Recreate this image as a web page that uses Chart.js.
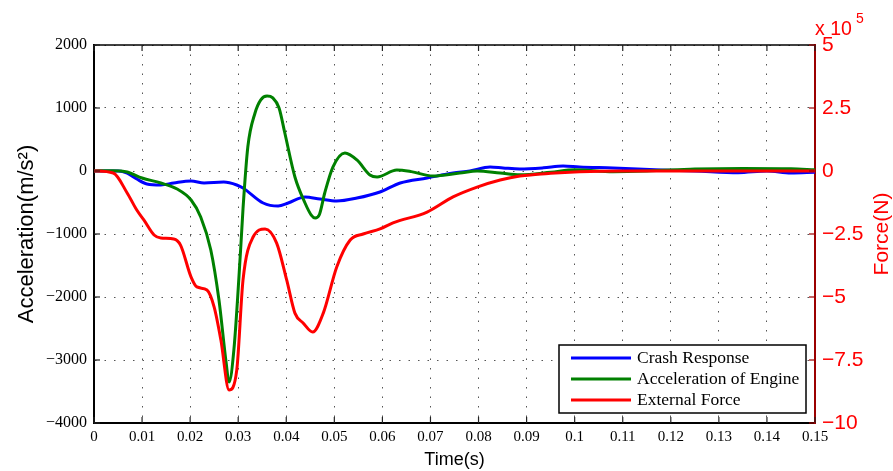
<!DOCTYPE html>
<html>
<head>
<meta charset="utf-8">
<script src="https://cdn.jsdelivr.net/npm/chart.js@4.4.1/dist/chart.umd.min.js"></script>
<style>
  html, body { margin: 0; padding: 0; background: #fff; }
  #wrap { width: 893px; height: 471px; }
</style>
</head>
<body>
<div id="wrap"><canvas id="c" width="893" height="471"></canvas></div>
<script>
// ---- Data ----
const seriesNames = ['Crash Response', 'Acceleration of Engine', 'External Force'];

const crashTime  = [0, 0.005, 0.0069, 0.0089, 0.011, 0.0139, 0.0166, 0.0202, 0.0229, 0.027, 0.0297, 0.031, 0.0352, 0.0383, 0.0404, 0.0439, 0.047, 0.0505, 0.0547, 0.0595, 0.0637, 0.0693, 0.0747, 0.0782, 0.0824, 0.0851, 0.0886, 0.0935, 0.0976, 0.101, 0.108, 0.118, 0.125, 0.134, 0.14, 0.145, 0.15];
const crashAccel = [0, 0, -32, -127, -206, -222, -190, -159, -190, -175, -222, -270, -508, -556, -508, -413, -444, -476, -429, -333, -190, -111, -32, 0, 63, 48, 32, 50, 79, 63, 48, 16, 0, -27, 0, -32, -20];

const engineTime  = [0, 0.004, 0.0069, 0.01, 0.0139, 0.0173, 0.0202, 0.0222, 0.0243, 0.026, 0.0275, 0.0281, 0.0291, 0.0305, 0.031, 0.032, 0.0335, 0.0347, 0.036, 0.0372, 0.0385, 0.0397, 0.0418, 0.0439, 0.0452, 0.046, 0.0469, 0.048, 0.0497, 0.0522, 0.0547, 0.0574, 0.0589, 0.063, 0.066, 0.0705, 0.0761, 0.0797, 0.0845, 0.0886, 0.095, 0.1, 0.108, 0.115, 0.125, 0.135, 0.145, 0.15];
const engineAccel = [0, 5, -16, -111, -190, -286, -460, -730, -1254, -2048, -3048, -3349, -2841, -1254, -600, 381, 921, 1130, 1190, 1160, 1000, 603, -95, -508, -700, -746, -690, -349, 63, 286, 175, -63, -95, 16, -10, -79, -32, 0, -32, -60, -20, 20, -10, 0, 30, 40, 35, 20];

// External force in units of 10^5 N
const forceTime  = [0, 0.004, 0.0069, 0.0089, 0.0104, 0.0125, 0.0139, 0.0166, 0.018, 0.0202, 0.0214, 0.0235, 0.025, 0.0264, 0.0281, 0.0297, 0.031, 0.0331, 0.0356, 0.038, 0.0401, 0.0418, 0.0435, 0.0455, 0.0477, 0.0505, 0.0533, 0.056, 0.0595, 0.0622, 0.0693, 0.0747, 0.0797, 0.0845, 0.0886, 0.095, 0.101, 0.11, 0.12, 0.13, 0.14, 0.15];
const forceValue = [0, -0.08, -0.87, -1.55, -1.95, -2.54, -2.66, -2.70, -2.94, -4.21, -4.60, -4.72, -5.40, -6.71, -8.69, -7.90, -4.33, -2.62, -2.30, -2.86, -4.33, -5.64, -6.03, -6.39, -5.64, -3.81, -2.74, -2.50, -2.30, -2.06, -1.63, -1.03, -0.64, -0.36, -0.20, -0.09, -0.03, 0, 0, 0, 0, 0];

const xTicks  = [0, 0.01, 0.02, 0.03, 0.04, 0.05, 0.06, 0.07, 0.08, 0.09, 0.1, 0.11, 0.12, 0.13, 0.14, 0.15];
const yTicks  = [-4000, -3000, -2000, -1000, 0, 1000, 2000];
const y1Ticks = [-10, -7.5, -5, -2.5, 0, 2.5, 5];

// ---- helpers ----
const pairs = (xs, ys) => xs.map((x, i) => ({ x: x, y: ys[i] }));
const minus = v => (v < 0 ? '\u2212' + String(Math.abs(v)) : String(v));
const SERIF = '"Liberation Serif", "Times New Roman", serif';
const SANS = '"Liberation Sans", Arial, sans-serif';
const DARKRED = '#9b0000';

const overlay = {
  id: 'overlay',
  afterDraw(chart) {
    const ctx = chart.ctx;
    const a = chart.chartArea;
    const xs = chart.scales.x, ys = chart.scales.y, y1 = chart.scales.y1;
    ctx.save();
    // top frame
    ctx.strokeStyle = '#000';
    ctx.lineWidth = 1.5;
    ctx.beginPath(); ctx.moveTo(a.left, a.top); ctx.lineTo(a.right, a.top); ctx.stroke();
    // inward ticks
    ctx.lineWidth = 1.2;
    ctx.strokeStyle = '#222';
    xTicks.forEach(t => {
      const px = xs.getPixelForValue(t);
      ctx.beginPath(); ctx.moveTo(px, a.bottom); ctx.lineTo(px, a.bottom - 6); ctx.stroke();
      ctx.beginPath(); ctx.moveTo(px, a.top); ctx.lineTo(px, a.top + 6); ctx.stroke();
    });
    yTicks.forEach(v => {
      const py = ys.getPixelForValue(v);
      ctx.beginPath(); ctx.moveTo(a.left, py); ctx.lineTo(a.left + 6, py); ctx.stroke();
    });
    ctx.strokeStyle = DARKRED;
    y1Ticks.forEach(v => {
      const py = y1.getPixelForValue(v);
      ctx.beginPath(); ctx.moveTo(a.right, py); ctx.lineTo(a.right - 6, py); ctx.stroke();
    });
    // legend
    const lx = 559, ly = 345, lw = 247, lh = 68;
    ctx.fillStyle = '#fff';
    ctx.fillRect(lx, ly, lw, lh);
    ctx.strokeStyle = '#000';
    ctx.lineWidth = 1.5;
    ctx.strokeRect(lx, ly, lw, lh);
    const rows = [358, 379, 400];
    ctx.font = '17.5px ' + SERIF;
    ctx.textBaseline = 'middle';
    ctx.textAlign = 'left';
    chart.data.datasets.forEach((ds, i) => {
      ctx.strokeStyle = ds.borderColor;
      ctx.lineWidth = 3;
      ctx.beginPath(); ctx.moveTo(571, rows[i]); ctx.lineTo(631, rows[i]); ctx.stroke();
      ctx.fillStyle = '#000';
      ctx.fillText(ds.label, 637, rows[i]);
    });
    // right axis title
    ctx.fillStyle = '#ff0000';
    ctx.font = '21px ' + SANS;
    ctx.save();
    ctx.translate(882, (a.top + a.bottom) / 2);
    ctx.rotate(-Math.PI / 2);
    ctx.textAlign = 'center';
    ctx.textBaseline = 'middle';
    ctx.fillText('Force(N)', 0, 0);
    ctx.restore();
    // multiplier
    ctx.textAlign = 'left';
    ctx.textBaseline = 'alphabetic';
    ctx.font = '19.5px ' + SANS;
    ctx.fillText('x 10', 815, 35);
    ctx.font = '14px ' + SANS;
    ctx.fillText('5', 856, 23);
    ctx.restore();
  }
};

new Chart(document.getElementById('c'), {
  type: 'line',
  data: {
    datasets: [
      { label: seriesNames[0], data: pairs(crashTime, crashAccel), borderColor: '#0000ff', yAxisID: 'y', order: 2 },
      { label: seriesNames[1], data: pairs(engineTime, engineAccel), borderColor: '#008000', yAxisID: 'y', order: 1 },
      { label: seriesNames[2], data: pairs(forceTime, forceValue), borderColor: '#ff0000', yAxisID: 'y1', order: 0 }
    ]
  },
  options: {
    responsive: false,
    animation: false,
    events: [],
    layout: { padding: { top: 45, left: 0, right: 0, bottom: 0 } },
    elements: {
      point: { radius: 0 },
      line: { borderWidth: 3, cubicInterpolationMode: 'monotone', fill: false }
    },
    plugins: { legend: { display: false }, tooltip: { enabled: false } },
    scales: {
      x: {
        type: 'linear', min: 0, max: 0.15,
        afterBuildTicks: s => { s.ticks = xTicks.map(v => ({ value: v })); },
        afterFit: s => { s.height = 48; },
        ticks: {
          padding: 5, color: '#000', maxRotation: 0, autoSkip: false,
          font: { family: SERIF, size: 15 },
          callback: v => String(Math.round(v * 100) / 100)
        },
        grid: { color: '#555', lineWidth: 1, drawTicks: false },
        border: { display: true, color: '#000', width: 2, dash: [1.5, 8] },
        title: { display: true, text: 'Time(s)', color: '#000', font: { family: SANS, size: 18 }, padding: { top: 0, bottom: 0 } }
      },
      y: {
        type: 'linear', position: 'left', min: -4000, max: 2000,
        afterBuildTicks: s => { s.ticks = yTicks.map(v => ({ value: v })); },
        afterFit: s => { s.width = 94; },
        ticks: { padding: 7, color: '#000', font: { family: SERIF, size: 16 }, callback: v => minus(v) },
        grid: { color: '#555', lineWidth: 1, drawTicks: false },
        border: { display: true, color: '#000', width: 2, dash: [1.5, 8] },
        title: { display: true, text: 'Acceleration(m/s\u00B2)', color: '#000', font: { family: SANS, size: 22 }, padding: { top: 14, bottom: 0 } }
      },
      y1: {
        type: 'linear', position: 'right', min: -10, max: 5,
        afterBuildTicks: s => { s.ticks = y1Ticks.map(v => ({ value: v })); },
        afterFit: s => { s.width = 78; },
        ticks: { padding: 7, color: '#ff0000', font: { family: SANS, size: 21 }, callback: v => minus(v) },
        grid: { drawOnChartArea: false, drawTicks: false },
        border: { display: true, color: DARKRED, width: 2 }
      }
    }
  },
  plugins: [overlay]
});
</script>
</body>
</html>
